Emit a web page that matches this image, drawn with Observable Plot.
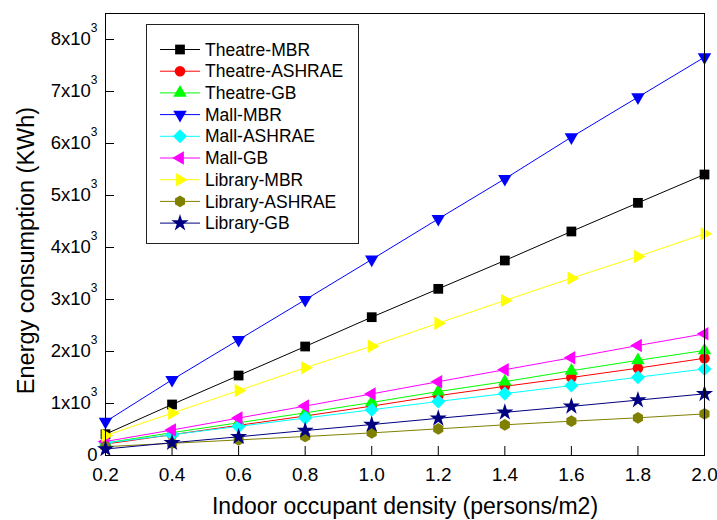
<!DOCTYPE html>
<html>
<head>
<meta charset="utf-8">
<script src="https://cdn.jsdelivr.net/npm/d3@7"></script>
<script src="https://cdn.jsdelivr.net/npm/@observablehq/plot@0.6"></script>
<style>
  html, body { margin: 0; padding: 0; background: #ffffff; }
  #chart { width: 717px; height: 520px; }
</style>
</head>
<body>
<div id="chart"></div>
<script>
// ---- data ----
const density = [0.2, 0.4, 0.6, 0.8, 1.0, 1.2, 1.4, 1.6, 1.8, 2.0];
const seriesNames = ["Theatre-MBR", "Theatre-ASHRAE", "Theatre-GB", "Mall-MBR", "Mall-ASHRAE", "Mall-GB", "Library-MBR", "Library-ASHRAE", "Library-GB"];
const theatreMBR    = [410, 981, 1538, 2096, 2660, 3205, 3750, 4308, 4859, 5404];
const theatreASHRAE = [220, 400, 580, 760, 950, 1150, 1330, 1500, 1680, 1870];
const theatreGB     = [240, 440, 630, 820, 1020, 1230, 1420, 1630, 1830, 2020];
const mallMBR       = [650, 1456, 2225, 2994, 3770, 4551, 5321, 6122, 6891, 7660];
const mallASHRAE    = [240, 400, 560, 720, 880, 1040, 1190, 1345, 1505, 1665];
const mallGB        = [270, 490, 720, 950, 1185, 1420, 1650, 1880, 2115, 2340];
const libraryMBR    = [385, 814, 1250, 1686, 2103, 2545, 2981, 3410, 3827, 4263];
const libraryASHRAE = [170, 235, 300, 365, 435, 513, 590, 660, 725, 800];
const libraryGB     = [125, 245, 360, 480, 595, 715, 830, 945, 1065, 1185];
const seriesValues = [theatreMBR, theatreASHRAE, theatreGB, mallMBR, mallASHRAE, mallGB, libraryMBR, libraryASHRAE, libraryGB];
const xTicks = [0.2, 0.4, 0.6, 0.8, 1.0, 1.2, 1.4, 1.6, 1.8, 2.0];
const yTicks = [0, 1000, 2000, 3000, 4000, 5000, 6000, 7000, 8000];
const xTitle = "Indoor occupant density (persons/m2)";
const yTitle = "Energy consumption (KWh)";

// ---- styles ----
const colors = ["#000000", "#ff0000", "#00ff00", "#0000ff", "#00ffff", "#ff00ff", "#ffff00", "#808000", "#000080"];
const sqrt3 = Math.sqrt(3);
const symDiamond = { draw(ctx, size) { const r = Math.sqrt(size / 2); ctx.moveTo(0, -r); ctx.lineTo(r, 0); ctx.lineTo(0, r); ctx.lineTo(-r, 0); ctx.closePath(); } };
const symHexagon = { draw(ctx, size) { const rx = Math.sqrt(size / (1.5 * sqrt3)); const ry = rx * sqrt3 / 2; ctx.moveTo(0, rx); ctx.lineTo(ry, rx / 2); ctx.lineTo(ry, -rx / 2); ctx.lineTo(0, -rx); ctx.lineTo(-ry, -rx / 2); ctx.lineTo(-ry, rx / 2); ctx.closePath(); } };
const symbols = [d3.symbolSquare, d3.symbolCircle, d3.symbolTriangle, d3.symbolTriangle, symDiamond, d3.symbolTriangle, d3.symbolTriangle, symHexagon, d3.symbolStar];
const rotations = [0, 0, 0, 180, 0, -90, 90, 0, 0];
const radii = [5.5, 5.3, 5.0, 5.0, 5.6, 5.0, 5.0, 5.3, 5.4];

const W = 717, H = 520, mL = 105, mR = 13, mT = 13, mB = 65;
const innerW = W - mL - mR, innerH = H - mT - mB;
const font = "'Liberation Sans', Arial, sans-serif";

const seriesMarks = [];
seriesNames.forEach((name, i) => {
  const rows = density.map((x, j) => ({x, y: seriesValues[i][j]}));
  seriesMarks.push(Plot.line(rows, {x: "x", y: "y", stroke: colors[i], strokeWidth: 1}));
  seriesMarks.push(Plot.dot(rows, {x: "x", y: "y", fill: colors[i], stroke: "none", symbol: symbols[i], rotate: rotations[i], r: radii[i]}));
});

const plot = Plot.plot({
  width: W, height: H,
  marginLeft: mL, marginRight: mR, marginTop: mT, marginBottom: mB,
  style: {fontFamily: font, background: "#ffffff", color: "#000000"},
  x: {domain: [0.2, 2.0]},
  y: {domain: [0, 8500]},
  marks: [
    Plot.axisX(xTicks, {tickSize: 0, tickPadding: 12, tickFormat: d3.format(".1f"), fontSize: 19, label: null, fill: "#000"}),
    Plot.axisY(yTicks, {tickSize: 0, tickPadding: 8, tickFormat: d => d === 0 ? "0" : `${d / 1000}x10^3`, fontSize: 18.5, label: null, fill: "#000"}),
    Plot.tickX(xTicks, {x: d => d, insetTop: innerH - 9, stroke: "#000", strokeWidth: 1}),
    Plot.tickY(yTicks, {y: d => d, insetRight: innerW - 9, stroke: "#000", strokeWidth: 1}),
    ...seriesMarks,
    Plot.frame({stroke: "#000", strokeWidth: 1}),
    Plot.text([xTitle], {text: d => d, frameAnchor: "bottom", dy: 51.5, textAnchor: "middle", lineAnchor: "middle", fontSize: 23, fill: "#000"}),
    Plot.text([yTitle], {text: d => d, frameAnchor: "left", dx: -79, dy: 16, rotate: -90, textAnchor: "middle", lineAnchor: "middle", fontSize: 23.5, fill: "#000"})
  ]
});

document.getElementById("chart").appendChild(plot);

// superscripts in y tick labels
d3.select(plot).selectAll('g[aria-label="y-axis tick label"] text').each(function() {
  const t = d3.select(this);
  const s = t.text();
  if (s.includes("^")) {
    const [base, exp] = s.split("^");
    t.text(base);
    t.append("tspan").attr("dy", -13).attr("font-size", 12).text(exp);
  }
});

// legend
const svg = d3.select(plot);
const lg = svg.append("g").attr("font-family", font).attr("font-size", 17.5).attr("text-anchor", "start");
lg.append("rect").attr("x", 146.5).attr("y", 24.5).attr("width", 212).attr("height", 219)
  .attr("fill", "#fff").attr("stroke", "#222").attr("stroke-width", 1);
seriesNames.forEach((name, i) => {
  const y = 49.5 + i * 21.7;
  lg.append("line").attr("x1", 160).attr("x2", 200).attr("y1", y).attr("y2", y)
    .attr("stroke", colors[i]).attr("stroke-width", 1);
  lg.append("path").attr("d", d3.symbol(symbols[i], radii[i] * radii[i] * Math.PI)())
    .attr("transform", `translate(180,${y}) rotate(${rotations[i]})`).attr("fill", colors[i]);
  lg.append("text").attr("x", 205).attr("y", y).attr("dy", "0.35em").attr("text-anchor", "start").attr("fill", "#000").text(name);
});
</script>
</body>
</html>
